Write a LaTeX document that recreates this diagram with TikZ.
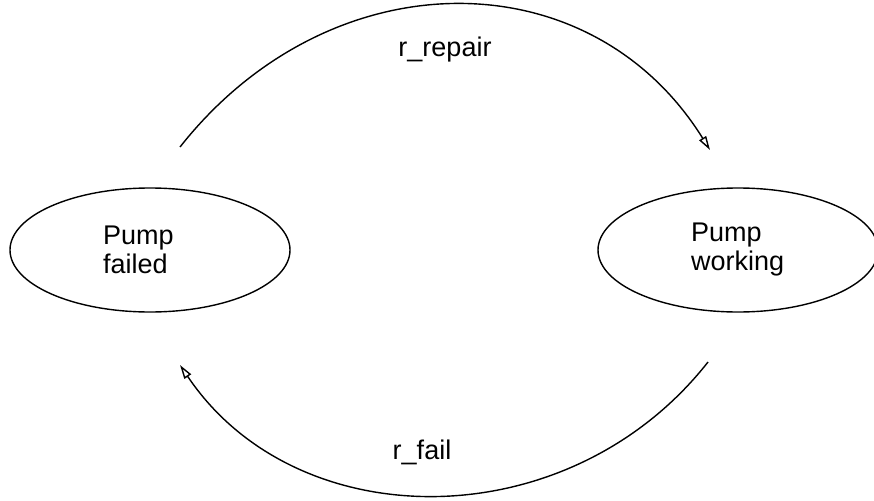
\documentclass[tikz,border=0pt]{standalone}
\usepackage{fontspec}
\setmainfont{Liberation Sans}
\usepackage{tikz}
\usetikzlibrary{shapes.geometric, arrows.meta}

\begin{document}
\begin{tikzpicture}[
    x=1pt, y=-1pt,
    state/.style={draw, ellipse, line width=1.4pt, minimum width=280pt, minimum height=124pt, inner sep=0pt, text width=94pt, align=left, font=\fontsize{27}{29}\selectfont},
    lbl/.style={font=\fontsize{27}{29}\selectfont},
    arrow/.style={-{Triangle[open, length=14pt, width=8pt]}, line width=1.4pt}
]
\useasboundingbox (0,0) rectangle (874,500);

\node[state] (failed) at (150,250) {Pump\\failed};
\node[state] (working) at (738,250) {Pump\\working};

\coordinate (repS) at (180,147);
\coordinate (repE) at (710,150);
\coordinate (failS) at (708,362);
\coordinate (failE) at (180,365);

\draw[arrow] (repS) .. controls (330,-43) and (590,-43) .. (repE);
\draw[arrow] (failS) .. controls (569,539) and (297,539) .. (failE);

\node[lbl] (repair) at (445,50) {r\_repair};
\node[lbl] (fail) at (422,452) {r\_fail};

\end{tikzpicture}
\end{document}
